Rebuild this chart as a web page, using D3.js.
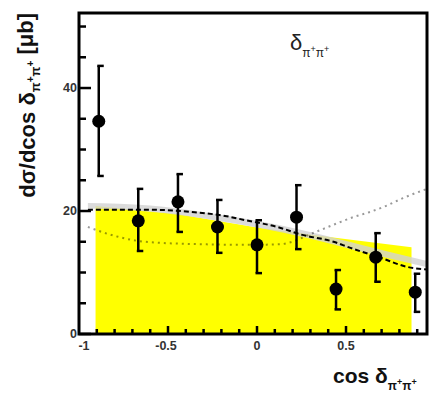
<!DOCTYPE html>
<html>
<head>
<meta charset="utf-8">
<script src="https://cdn.jsdelivr.net/npm/d3@7"></script>
<style>
  body { margin: 0; background: #fff; }
  svg { display: block; }
</style>
</head>
<body>
<svg id="chart" width="432" height="396"></svg>
<script>
// data points (9 bins in cos delta)
var binCenters = [-0.889, -0.667, -0.444, -0.222, 0, 0.222, 0.444, 0.667, 0.889];
var xsec = [34.6, 18.4, 21.5, 17.4, 14.5, 19.0, 7.3, 12.5, 6.8];
var errLow = [25.7, 13.5, 16.6, 13.2, 9.9, 13.8, 4.0, 8.5, 3.6];
var errHigh = [43.6, 23.6, 26.0, 21.8, 18.5, 24.2, 10.4, 16.4, 9.8];

// yellow histogram top edge
var histCos = [-0.907, -0.45, 0, 0.45, 0.868];
var histVal = [20.8, 19.5, 17.3, 15.6, 14.1];

// grey band
var bandCos = [-0.95, -0.6, -0.3, 0, 0.3, 0.6, 0.95];
var bandHi = [21.3, 20.9, 19.8, 18.4, 16.6, 14.4, 11.9];
var bandLo = [20.4, 19.9, 18.8, 17.3, 15.5, 13.3, 10.9];

// dashed fit curve
var fitCos = [-0.95, -0.6, -0.35, -0.18, -0.065, 0.115, 0.244, 0.43, 0.525, 0.694, 0.846, 0.955];
var fitVal = [20.2, 20.2, 19.8, 19.2, 18.5, 17.4, 16.2, 15.0, 14.0, 12.4, 10.9, 10.5];

// dotted curve
var dotCos = [-0.95, -0.78, -0.63, -0.32, -0.04, 0.13, 0.33, 0.45, 0.54, 0.63, 0.73, 0.82, 0.955];
var dotVal = [17.4, 15.8, 15.0, 14.6, 14.5, 14.6, 16.6, 18.0, 19.0, 19.8, 20.9, 22.1, 23.6];

var yMajor = [0, 20, 40];
var xMajor = [-1, -0.5, 0, 0.5];
var xMajorLabels = ["-1", "-0.5", "0", "0.5"];

var svg = d3.select("#chart");
var pl = 79, pr = 427, pt = 13, pb = 334;

var x = d3.scaleLinear().domain([-1, 0.955]).range([pl, pr]);
var y = d3.scaleLinear().domain([0, 52.2]).range([pb, pt]);

var plot = svg.append("g");

// yellow histogram
var histPts = histCos.map(function (c, i) { return [c, histVal[i]]; });
plot.append("path")
  .attr("fill", "#ffff00")
  .attr("d", d3.area()
    .x(function (d) { return x(d[0]); })
    .y0(y(0))
    .y1(function (d) { return y(d[1]); })(histPts));

// grey band
var bandPts = bandCos.map(function (c, i) { return [c, bandLo[i], bandHi[i]]; });
plot.append("path")
  .attr("fill", "#d2d2d2")
  .attr("opacity", 0.8)
  .attr("d", d3.area()
    .curve(d3.curveMonotoneX)
    .x(function (d) { return x(d[0]); })
    .y0(function (d) { return y(d[1]); })
    .y1(function (d) { return y(d[2]); })(bandPts));

// dotted curve
var dotPts = dotCos.map(function (c, i) { return [c, dotVal[i]]; });
plot.append("path")
  .attr("fill", "none")
  .attr("stroke", "#000")
  .attr("stroke-opacity", 0.4)
  .attr("stroke-width", 2)
  .attr("stroke-dasharray", "2,4")
  .attr("d", d3.line()
    .curve(d3.curveMonotoneX)
    .x(function (d) { return x(d[0]); })
    .y(function (d) { return y(d[1]); })(dotPts));

// dashed fit
var fitPts = fitCos.map(function (c, i) { return [c, fitVal[i]]; });
plot.append("path")
  .attr("fill", "none")
  .attr("stroke", "#000")
  .attr("stroke-width", 2)
  .attr("stroke-dasharray", "5,3")
  .attr("d", d3.line()
    .curve(d3.curveMonotoneX)
    .x(function (d) { return x(d[0]); })
    .y(function (d) { return y(d[1]); })(fitPts));

// error bars
var pts = plot.selectAll("g.pt")
  .data(binCenters)
  .enter()
  .append("g")
  .attr("class", "pt");

pts.append("line")
  .attr("x1", function (d) { return x(d); })
  .attr("x2", function (d) { return x(d); })
  .attr("y1", function (d, i) { return y(errLow[i]); })
  .attr("y2", function (d, i) { return y(errHigh[i]); })
  .attr("stroke", "#000")
  .attr("stroke-width", 2.5);

[errLow, errHigh].forEach(function (arr) {
  pts.append("line")
    .attr("x1", function (d) { return x(d) - 1.5; })
    .attr("x2", function (d) { return x(d) + 5; })
    .attr("y1", function (d, i) { return y(arr[i]); })
    .attr("y2", function (d, i) { return y(arr[i]); })
    .attr("stroke", "#000")
    .attr("stroke-width", 2.5);
});

pts.append("circle")
  .attr("cx", function (d) { return x(d); })
  .attr("cy", function (d, i) { return y(xsec[i]); })
  .attr("r", 6.5)
  .attr("fill", "#000");

// ticks
var yMinor = d3.range(0, 52, 5);
svg.selectAll("line.yt")
  .data(yMinor)
  .enter()
  .append("line")
  .attr("x1", pl)
  .attr("x2", function (d) { return pl + (yMajor.indexOf(d) >= 0 ? 12 : 7); })
  .attr("y1", function (d) { return y(d); })
  .attr("y2", function (d) { return y(d); })
  .attr("stroke", "#000")
  .attr("stroke-width", 2.5);

var xMinor = d3.range(-9, 10).map(function (d) { return d / 10; });
svg.selectAll("line.xt")
  .data(xMinor)
  .enter()
  .append("line")
  .attr("x1", function (d) { return x(d); })
  .attr("x2", function (d) { return x(d); })
  .attr("y1", pb)
  .attr("y2", function (d) { return pb - (Math.abs(d * 2 - Math.round(d * 2)) < 1e-6 ? 8 : 5); })
  .attr("stroke", "#000")
  .attr("stroke-width", 2.5);

// frame
svg.append("rect")
  .attr("x", pl)
  .attr("y", pt)
  .attr("width", pr - pl)
  .attr("height", pb - pt)
  .attr("fill", "none")
  .attr("stroke", "#000")
  .attr("stroke-width", 3);

// tick labels
svg.selectAll("text.yl")
  .data(yMajor)
  .enter()
  .append("text")
  .attr("x", 77)
  .attr("y", function (d) { return y(d) + 4; })
  .attr("text-anchor", "end")
  .attr("font-family", "Liberation Sans, Arial, sans-serif")
  .attr("font-size", 12.5)
  .attr("font-weight", "bold")
  .attr("fill", "#333")
  .text(function (d) { return d; });

svg.selectAll("text.xl")
  .data(xMajor)
  .enter()
  .append("text")
  .attr("x", function (d) { return x(d) + (d === -1 ? 5 : (d < 0 ? -2 : 0)); })
  .attr("y", 350)
  .attr("text-anchor", "middle")
  .attr("font-family", "Liberation Sans, Arial, sans-serif")
  .attr("font-size", 12.5)
  .attr("font-weight", "bold")
  .attr("fill", "#333")
  .text(function (d, i) { return xMajorLabels[i]; });

// subscript pi+pi+ helper
function addSub(t, size, supSize, drop) {
  t.append("tspan").attr("font-size", size).attr("dy", drop).text("π");
  t.append("tspan").attr("font-size", supSize).attr("dy", -size * 0.45).text("+");
  t.append("tspan").attr("font-size", size).attr("dy", size * 0.45).text("π");
  t.append("tspan").attr("font-size", supSize).attr("dy", -size * 0.45).text("+");
}

// y title
var yt = svg.append("text")
  .attr("transform", "translate(35,13) rotate(-90)")
  .attr("text-anchor", "end")
  .attr("font-family", "Liberation Sans, Arial, sans-serif")
  .attr("font-weight", "bold")
  .attr("font-size", 22)
  .attr("fill", "#111");
yt.append("tspan").text("dσ/dcos δ");
addSub(yt, 13, 10, 5);
yt.append("tspan").attr("dy", -0.85).text(" [μb]");

// x title
var xt = svg.append("text")
  .attr("x", 333)
  .attr("y", 383)
  .attr("font-family", "Liberation Sans, Arial, sans-serif")
  .attr("font-weight", "bold")
  .attr("font-size", 21)
  .attr("fill", "#111");
xt.append("tspan").text("cos δ");
addSub(xt, 12, 9, 7);

// label inside
var lab = svg.append("text")
  .attr("x", 290)
  .attr("y", 50)
  .attr("font-family", "Liberation Sans, Arial, sans-serif")
  .attr("font-size", 22)
  .attr("fill", "#222");
lab.append("tspan").text("δ");
addSub(lab, 12, 9, 7);
</script>
</body>
</html>
